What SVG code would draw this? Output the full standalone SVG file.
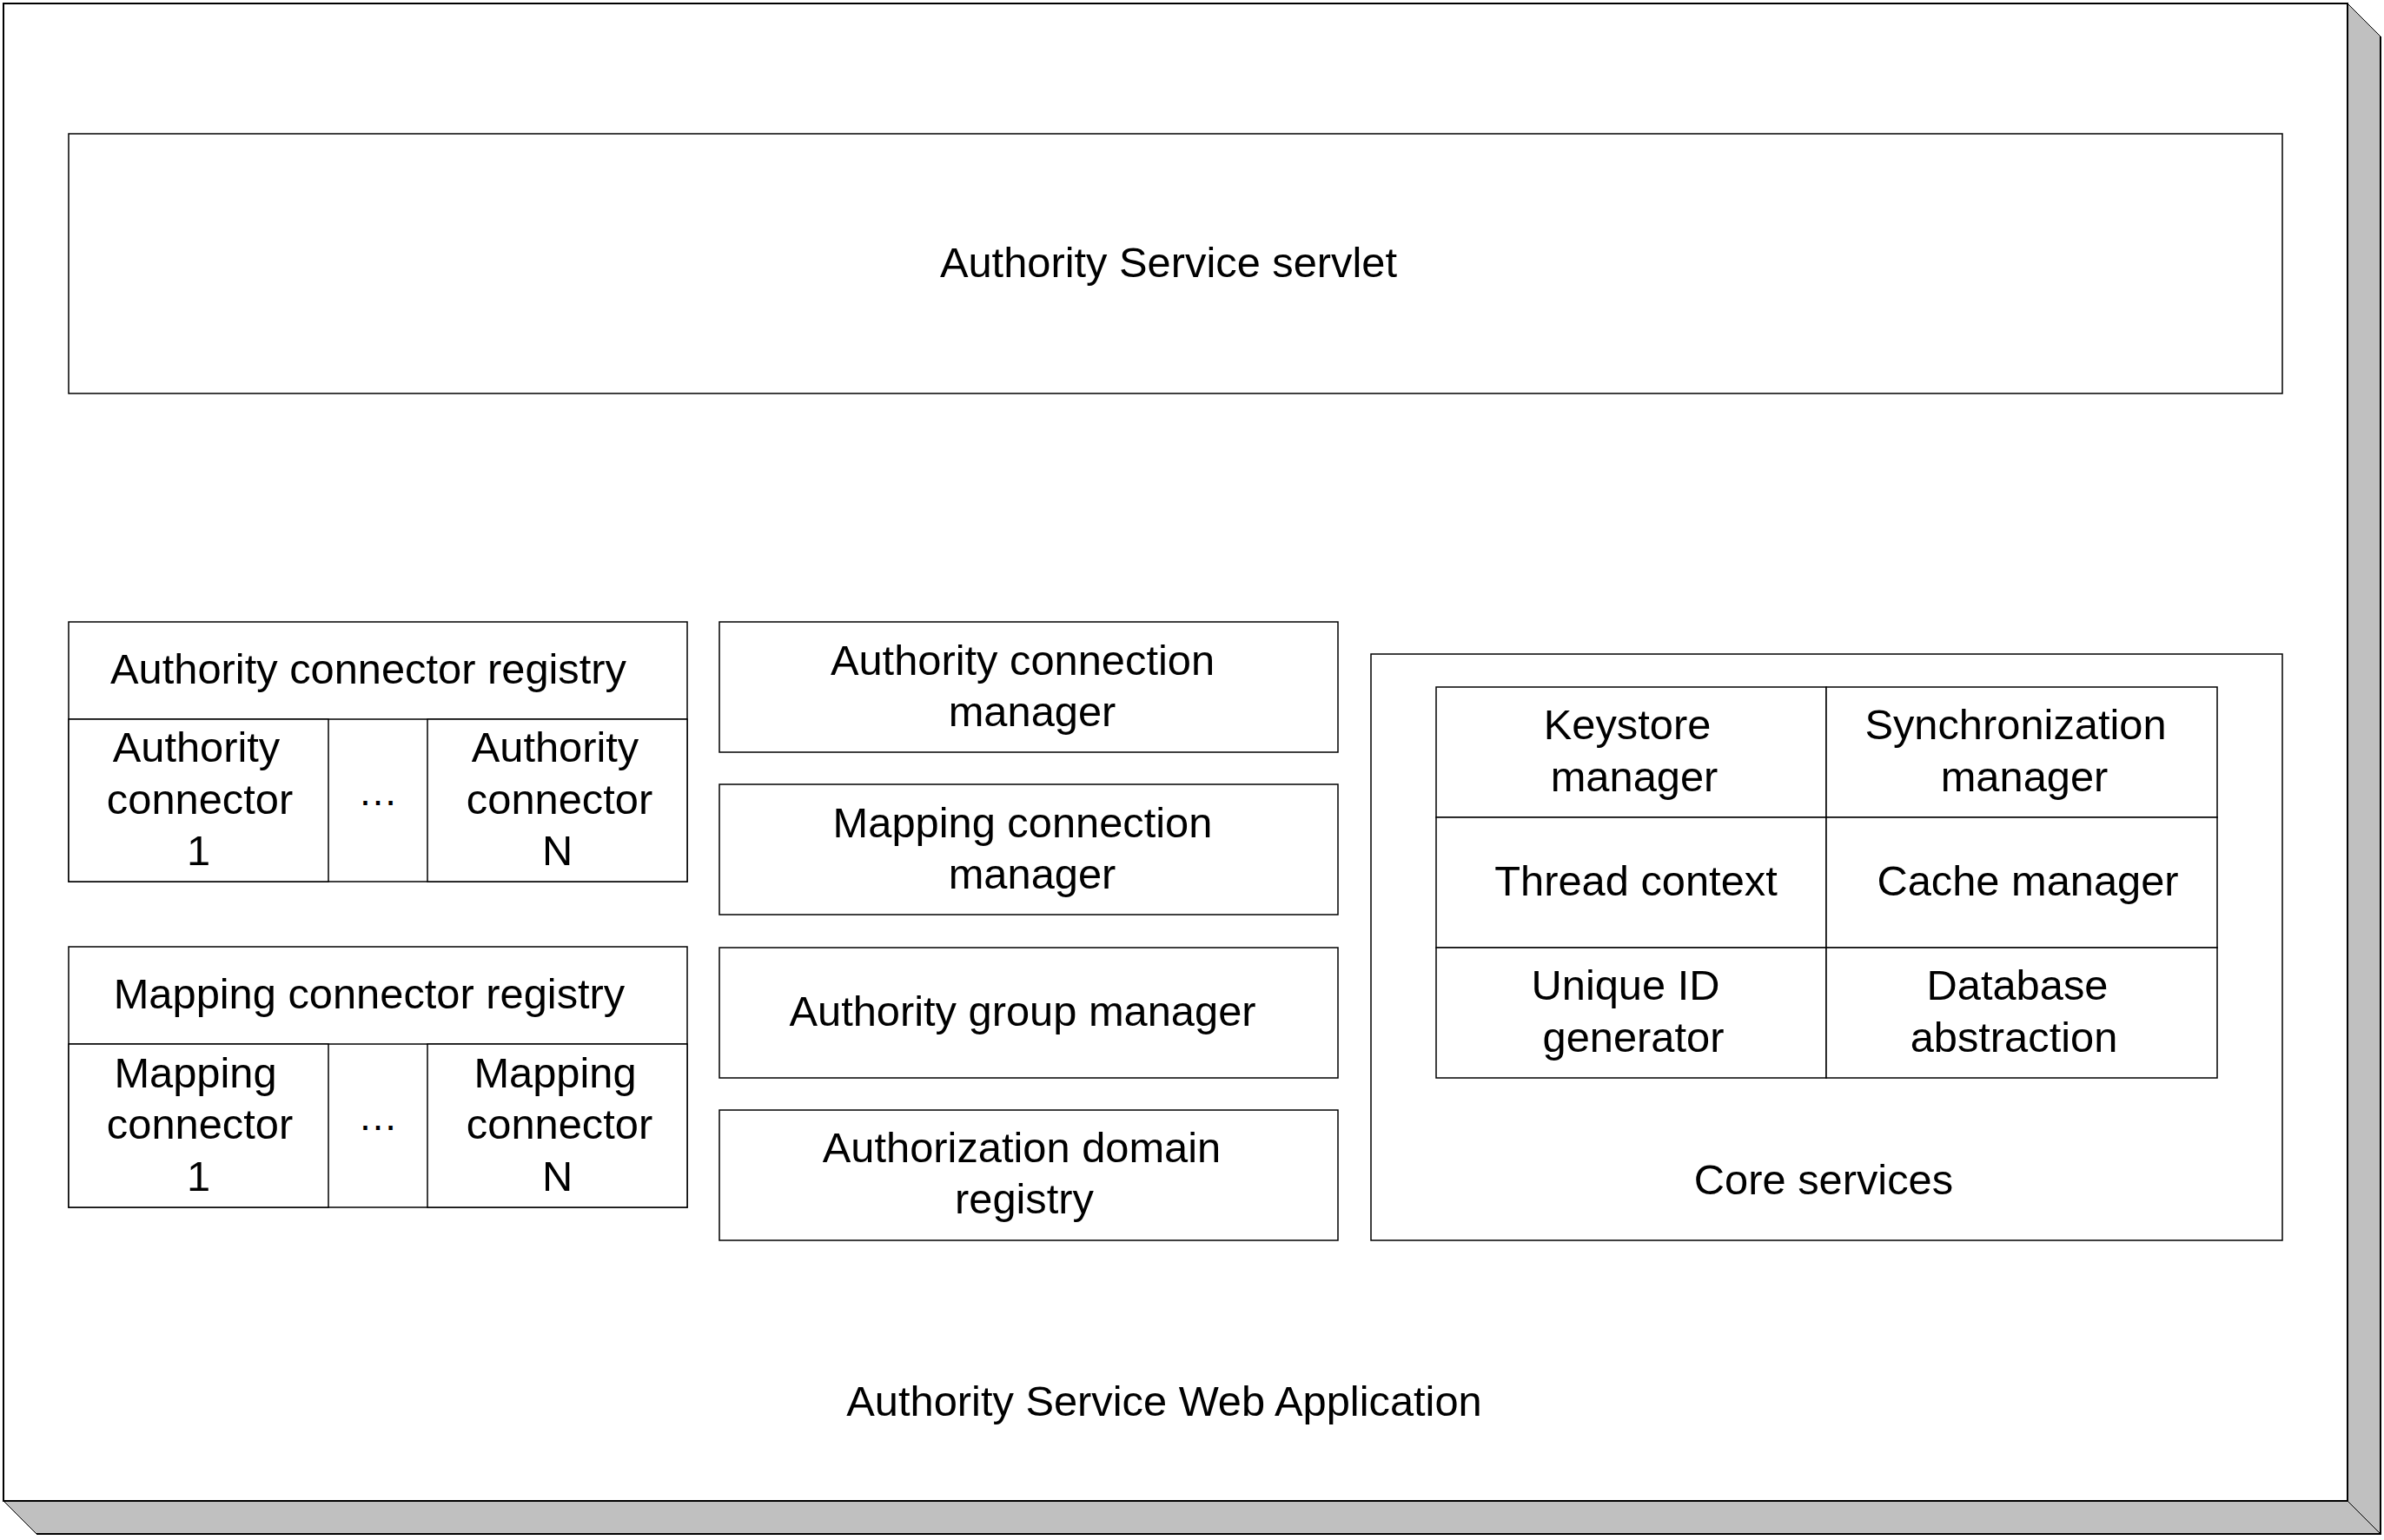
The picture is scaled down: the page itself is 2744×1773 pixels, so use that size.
<svg xmlns="http://www.w3.org/2000/svg" width="2744" height="1773" viewBox="0 0 2744 1773">
  <style>
    .box { fill: #ffffff; stroke: #000000; stroke-width: 1.5; }
    .ln { fill: none; stroke: #000000; stroke-width: 1.5; }
    .outer { fill: #ffffff; stroke: #000000; stroke-width: 2; }
    .shadow { fill: #c0c0c0; stroke: none; }
    .sedge { fill: none; stroke: #000000; stroke-width: 2; }
    .sdiag { fill: none; stroke: #000000; stroke-width: 1; }
    text { font-family: "Liberation Sans", Arial, sans-serif; font-size: 48.8px; fill: #000000; text-anchor: middle; }
    .dots { font-size: 46px; }
  </style>
  <rect width="2744" height="1773" fill="#ffffff"/>

  <g id="web-application">
    <polygon class="shadow" points="2702,4 2740,42 2740,1766 42,1766 4,1728 2702,1728"/>
    <polyline class="sedge" points="2740,42 2740,1766 42,1766"/>
    <line class="sdiag" x1="2702" y1="4" x2="2740" y2="42"/>
    <line class="sdiag" x1="4" y1="1728" x2="42" y2="1766"/>
    <line class="sdiag" x1="2702" y1="1728" x2="2740" y2="1766"/>
    <rect class="outer" x="4" y="4" width="2698" height="1724"/>
    <text x="1340" y="1630">Authority Service Web Application</text>
  </g>

  <g id="servlet">
    <rect class="box" x="79" y="154" width="2548" height="299"/>
    <text x="1345" y="319">Authority Service servlet</text>
  </g>

  <g id="authority-connector-registry">
    <rect class="box" x="79" y="716" width="712" height="299"/>
    <line class="ln" x1="79" y1="828" x2="791" y2="828"/>
    <text x="424" y="787">Authority connector registry</text>
    <g id="authority-connector-1">
      <rect class="box" x="79" y="828" width="299" height="187"/>
      <text x="226" y="877">Authority</text>
      <text x="230" y="936.5">connector</text>
      <text x="228.5" y="996">1</text>
    </g>
    <text class="dots" x="435" y="927">…</text>
    <g id="authority-connector-n">
      <rect class="box" x="492" y="828" width="299" height="187"/>
      <text x="639" y="877">Authority</text>
      <text x="644" y="936.5">connector</text>
      <text x="641.5" y="996">N</text>
    </g>
  </g>

  <g id="mapping-connector-registry">
    <rect class="box" x="79" y="1090" width="712" height="300"/>
    <line class="ln" x1="79" y1="1202" x2="791" y2="1202"/>
    <text x="425" y="1161">Mapping connector registry</text>
    <g id="mapping-connector-1">
      <rect class="box" x="79" y="1202" width="299" height="188"/>
      <text x="225" y="1251.5">Mapping</text>
      <text x="230" y="1311">connector</text>
      <text x="228.5" y="1370.5">1</text>
    </g>
    <text class="dots" x="435" y="1301">…</text>
    <g id="mapping-connector-n">
      <rect class="box" x="492" y="1202" width="299" height="188"/>
      <text x="639" y="1251.5">Mapping</text>
      <text x="644" y="1311">connector</text>
      <text x="641.5" y="1370.5">N</text>
    </g>
  </g>

  <g id="authority-connection-manager">
    <rect class="box" x="828" y="716" width="712" height="150"/>
    <text x="1177" y="777">Authority connection</text>
    <text x="1188" y="836">manager</text>
  </g>

  <g id="mapping-connection-manager">
    <rect class="box" x="828" y="903" width="712" height="150"/>
    <text x="1177" y="964">Mapping connection</text>
    <text x="1188" y="1023">manager</text>
  </g>

  <g id="authority-group-manager">
    <rect class="box" x="828" y="1091" width="712" height="150"/>
    <text x="1177" y="1181">Authority group manager</text>
  </g>

  <g id="authorization-domain-registry">
    <rect class="box" x="828" y="1278" width="712" height="150"/>
    <text x="1176" y="1338">Authorization domain</text>
    <text x="1179" y="1397">registry</text>
  </g>

  <g id="core-services">
    <rect class="box" x="1578" y="753" width="1049" height="675"/>
    <text x="2099" y="1375">Core services</text>
    <g id="keystore-manager">
      <rect class="box" x="1653" y="791" width="449" height="150"/>
      <text x="1873" y="851">Keystore</text>
      <text x="1881" y="911">manager</text>
    </g>
    <g id="synchronization-manager">
      <rect class="box" x="2102" y="791" width="450" height="150"/>
      <text x="2320" y="851">Synchronization</text>
      <text x="2330" y="911">manager</text>
    </g>
    <g id="thread-context">
      <rect class="box" x="1653" y="941" width="449" height="150"/>
      <text x="1883" y="1031">Thread context</text>
    </g>
    <g id="cache-manager">
      <rect class="box" x="2102" y="941" width="450" height="150"/>
      <text x="2334" y="1031">Cache manager</text>
    </g>
    <g id="unique-id-generator">
      <rect class="box" x="1653" y="1091" width="449" height="150"/>
      <text x="1871" y="1151">Unique ID</text>
      <text x="1880" y="1211">generator</text>
    </g>
    <g id="database-abstraction">
      <rect class="box" x="2102" y="1091" width="450" height="150"/>
      <text x="2322" y="1151">Database</text>
      <text x="2318" y="1211">abstraction</text>
    </g>
  </g>

  <g id="connectors"/>
</svg>
